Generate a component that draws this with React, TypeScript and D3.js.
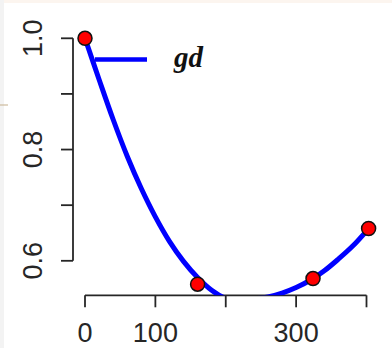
import React from "react";
import * as d3 from "d3";

// Fitted curve samples
const curveX = [0, 20, 40, 60, 80, 100, 120, 140, 160, 180, 200, 220, 230, 240, 260, 280, 300, 320, 340, 360, 380, 403];
const curveY = [1.0, 0.926, 0.854, 0.788, 0.73, 0.679, 0.635, 0.599, 0.57, 0.547, 0.532, 0.525, 0.526, 0.531, 0.535, 0.542, 0.552, 0.565, 0.582, 0.603, 0.626, 0.658];

// Observed points
const pointX = [0, 160, 324, 403];
const pointY = [1.0, 0.558, 0.568, 0.658];

// Axis ticks
const xTicks = [0, 100, 200, 300, 400];
const xTickLabels = ["0", "100", "", "300", ""];
const yTicks = [0.6, 0.7, 0.8, 0.9, 1.0];
const yTickLabels = ["0.6", "", "0.8", "", "1.0"];

const legendLabel = "gd";

export default function App() {
  const W = 392;
  const H = 348;
  const x = d3.scaleLinear().domain([0, 400]).range([85, 366.5]);
  const y = d3.scaleLinear().domain([0.6, 1.0]).range([260.8, 38.3]);
  const axisY = y(0.538);
  const axisX = 73;

  const line = d3
    .line<number>()
    .x((_, i) => x(curveX[i]))
    .y((d) => y(d))
    .curve(d3.curveCatmullRom.alpha(0.5));

  const ink = "#262626";
  const font = "'Liberation Sans', Arial, Helvetica, sans-serif";

  return (
    <svg
      width={W}
      height={H}
      style={{ position: "absolute", left: 0, top: 0, background: "#fff" }}
    >
      <defs>
        <clipPath id="plotClip">
          <rect x={axisX} y={0} width={W - axisX} height={axisY} />
        </clipPath>
      </defs>
      {/* faint screenshot artifacts */}
      <rect x={0} y={0} width={W} height={3} fill="#fcf5ef" />
      <rect x={0} y={0} width={4} height={H} fill="#f3f3f3" />
      <line x1={0} x2={8} y1={105} y2={105} stroke="#cdbb9c" strokeWidth={1.2} />

      {/* Y axis */}
      <line x1={axisX} x2={axisX} y1={y(1.0)} y2={y(0.6)} stroke={ink} strokeWidth={1.8} />
      {yTicks.map((t, i) => (
        <g key={"yt" + i}>
          <line x1={axisX - 12} x2={axisX} y1={y(t)} y2={y(t)} stroke={ink} strokeWidth={1.8} />
          {yTickLabels[i] && (
            <text
              transform={`translate(42,${y(t)}) rotate(-90)`}
              textAnchor="middle"
              fontFamily={font}
              fontSize={27}
              fill={ink}
            >
              {yTickLabels[i]}
            </text>
          )}
        </g>
      ))}

      {/* X axis */}
      <line x1={x(0)} x2={x(400)} y1={axisY} y2={axisY} stroke={ink} strokeWidth={1.8} />
      {xTicks.map((t, i) => (
        <g key={"xt" + i}>
          <line x1={x(t)} x2={x(t)} y1={axisY} y2={axisY + 12} stroke={ink} strokeWidth={1.8} />
          {xTickLabels[i] && (
            <text
              x={x(t)}
              y={342}
              textAnchor="middle"
              fontFamily={font}
              fontSize={27}
              fill={ink}
            >
              {xTickLabels[i]}
            </text>
          )}
        </g>
      ))}

      {/* Curve */}
      <g clipPath="url(#plotClip)">
        <path d={line(curveY) || ""} fill="none" stroke="#0000ff" strokeWidth={5} strokeLinecap="round" />
      </g>

      {/* Points */}
      {pointX.map((px, i) => (
        <circle key={"p" + i} cx={x(px)} cy={y(pointY[i])} r={7} fill="#ff0000" stroke="#111" strokeWidth={1.5} />
      ))}

      {/* Legend */}
      <line x1={95} x2={147} y1={59.5} y2={59.5} stroke="#0000ff" strokeWidth={4.5} />
      <text
        x={174}
        y={67}
        fontFamily="'Liberation Serif', 'Times New Roman', serif"
        fontStyle="italic"
        fontWeight="bold"
        fontSize={29}
        fill="#111"
      >
        {legendLabel}
      </text>
    </svg>
  );
}
